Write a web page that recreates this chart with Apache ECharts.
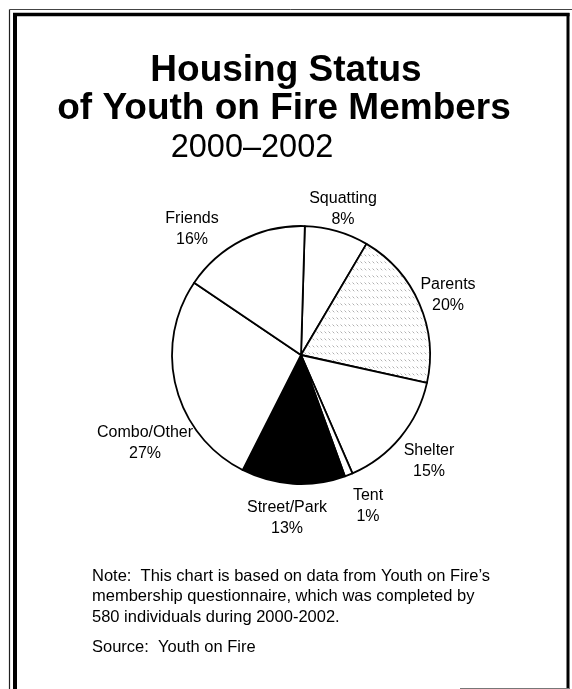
<!DOCTYPE html>
<html>
<head>
<meta charset="utf-8">
<script src="https://cdn.jsdelivr.net/npm/echarts@6/dist/echarts.min.js"></script>
<style>
html,body{margin:0;padding:0;background:#fff;}
#chart{width:572px;height:689px;}
</style>
</head>
<body>
<div id="chart"></div>
<script>
// Data
const categories = ['Squatting', 'Parents', 'Shelter', 'Tent', 'Street/Park', 'Combo/Other', 'Friends'];
const percents = [8, 20, 15, 1, 13, 27, 16];
const titleLines = ['Housing Status', 'of Youth on Fire Members'];
const subtitleText = '2000\u20132002';
const noteLines = [
  "Note:  This chart is based on data from Youth on Fire\u2019s",
  'membership questionnaire, which was completed by',
  '580 individuals during 2000-2002.'
];
const sourceText = 'Source:  Youth on Fire';

// Styling / layout (not data)
const labelPos = [[343, 209], [448, 295], [429, 461], [368, 506], [287, 518], [145, 443], [192, 229]];
const FONT = '"Liberation Sans", Arial, Helvetica, sans-serif';

function hatch() {
  const c = document.createElement('canvas');
  c.width = 4; c.height = 7;
  const g = c.getContext('2d');
  g.fillStyle = '#ffffff';
  g.fillRect(0, 0, 4, 7);
  g.strokeStyle = '#9a9a9a';
  g.lineWidth = 0.8;
  g.beginPath();
  g.moveTo(0.5, 2.5);
  g.lineTo(2.3, 4.3);
  g.stroke();
  return c;
}
const fills = ['#ffffff', {image: hatch(), repeat: 'repeat'}, '#ffffff', '#ffffff', '#000000', '#ffffff', '#ffffff'];

const chart = echarts.init(document.getElementById('chart'), null, {renderer: 'canvas'});

const graphics = [
  // frame
  {type: 'line', shape: {x1: 9.5, y1: 9.5, x2: 9.5, y2: 700}, style: {stroke: '#222', lineWidth: 1.2}},
  {type: 'line', shape: {x1: 9.5, y1: 9.5, x2: 572, y2: 9.5}, style: {stroke: '#444', lineWidth: 1}},
  {type: 'line', shape: {x1: 15, y1: 15, x2: 15, y2: 700}, style: {stroke: '#000', lineWidth: 4}},
  {type: 'line', shape: {x1: 13, y1: 14.5, x2: 569.5, y2: 14.5}, style: {stroke: '#000', lineWidth: 3.5}},
  {type: 'line', shape: {x1: 568, y1: 13, x2: 568, y2: 689}, style: {stroke: '#000', lineWidth: 3}},
  {type: 'line', shape: {x1: 460, y1: 688.5, x2: 570, y2: 688.5}, style: {stroke: '#777', lineWidth: 1}},
  // titles
  {type: 'text', x: 286, y: 71, style: {text: titleLines[0], font: 'bold 37px ' + FONT, fill: '#000', align: 'center', verticalAlign: 'middle'}},
  {type: 'text', x: 284, y: 108.5, style: {text: titleLines[1], font: 'bold 37px ' + FONT, fill: '#000', align: 'center', verticalAlign: 'middle'}},
  {type: 'text', x: 252, y: 148.5, style: {text: subtitleText, font: '32.5px ' + FONT, fill: '#000', align: 'center', verticalAlign: 'middle'}},
  {type: 'text', x: 92, y: 647, style: {text: sourceText, font: '16.5px ' + FONT, fill: '#000', align: 'left', verticalAlign: 'middle'}}
];
noteLines.forEach((t, i) => {
  graphics.push({type: 'text', x: 92, y: 576 + i * 20.5, style: {text: t, font: '16.5px ' + FONT, fill: '#000', align: 'left', verticalAlign: 'middle'}});
});

chart.setOption({
  backgroundColor: '#ffffff',
  animation: false,
  graphic: graphics,
  series: [{
    type: 'pie',
    center: [301, 355],
    radius: [0, 129],
    startAngle: 88.3,
    clockwise: true,
    avoidLabelOverlap: false,
    data: categories.map((name, i) => ({
      name: name,
      value: percents[i],
      itemStyle: {color: fills[i], borderColor: '#000', borderWidth: 1.8}
    })),
    label: {
      show: true,
      position: 'outside',
      formatter: p => p.name + '\n' + p.value + '%',
      fontFamily: FONT,
      fontSize: 16,
      lineHeight: 21,
      color: '#000',
      align: 'center'
    },
    labelLine: {show: false},
    labelLayout: function (params) {
      const p = labelPos[params.dataIndex];
      return {x: p[0], y: p[1], align: 'center', verticalAlign: 'middle'};
    },
    emphasis: {disabled: true}
  }]
});
</script>
</body>
</html>
